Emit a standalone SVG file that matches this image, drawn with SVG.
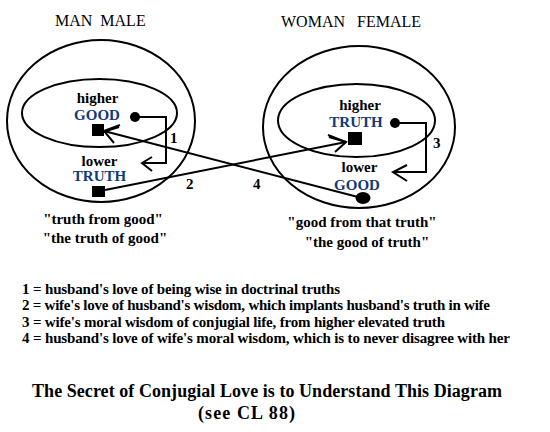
<svg xmlns="http://www.w3.org/2000/svg" width="550" height="432" viewBox="0 0 550 432">
<style>
.ring{fill:none;stroke:#000;stroke-width:2}
.ln{fill:none;stroke:#000;stroke-width:2}
.t{font-family:"Liberation Serif","Times New Roman",serif;font-weight:bold;fill:#000}
.h{font-family:"Liberation Serif","Times New Roman",serif;font-size:16px;fill:#000}
.lbl{font-size:15px}
.key{font-size:15px;fill:#123a7a}
.num{font-size:15px}
.leg{font-size:15px}
.ttl{font-size:18px}
</style>
<rect width="550" height="432" fill="#fff"/>
<g id="man">
<text class="h" x="55" y="26" xml:space="preserve">MAN  MALE</text>
<ellipse class="ring" cx="101" cy="121" rx="94" ry="81"/>
<ellipse class="ring" cx="99.5" cy="113" rx="77.5" ry="34"/>
</g>
<g id="woman">
<text class="h" x="281" y="27" xml:space="preserve">WOMAN   FEMALE</text>
<ellipse class="ring" cx="359" cy="127" rx="96" ry="81"/>
<ellipse class="ring" cx="356.5" cy="120.5" rx="78.5" ry="36.5"/>
</g>
<g id="man-higher">
<text class="t lbl" x="97.5" y="103" text-anchor="middle">higher</text>
<text class="t key" x="97" y="120" text-anchor="middle">GOOD</text>
<rect x="92" y="124" width="12" height="12" fill="#000"/>
<circle cx="135" cy="117" r="5" fill="#000"/>
</g>
<g id="man-lower">
<text class="t lbl" x="99.5" y="166" text-anchor="middle">lower</text>
<text class="t key" x="99.5" y="181" text-anchor="middle">TRUTH</text>
<rect x="92" y="186" width="13" height="11" fill="#000"/>
</g>
<g id="woman-higher">
<text class="t lbl" x="360" y="110" text-anchor="middle">higher</text>
<text class="t key" x="356" y="127" text-anchor="middle">TRUTH</text>
<rect x="348" y="132" width="14" height="13" fill="#000"/>
<circle cx="395" cy="123" r="5" fill="#000"/>
</g>
<g id="woman-lower">
<text class="t lbl" x="359.5" y="172" text-anchor="middle">lower</text>
<text class="t key" x="357" y="190" text-anchor="middle">GOOD</text>
<ellipse cx="363" cy="198" rx="7.5" ry="6" fill="#000"/>
</g>
<g id="connectors">
<polyline class="ln" points="135,117 166,117 166,163 142,163"/>
<polyline class="ln" points="152,157 142,163 152,171"/>
<polyline class="ln" points="395,123 426,123 426,172 393,172"/>
<polyline class="ln" points="407,165 393,172 407,181"/>
<line class="ln" x1="105" y1="190" x2="346" y2="142"/>
<polyline class="ln" points="328,135 346,142 335,152"/>
<polyline class="ln" points="329,137 346,142"/>
<line class="ln" x1="358" y1="197" x2="104" y2="131"/>
<polyline class="ln" points="120,125 104,131 114,143"/>
<polyline class="ln" points="119,127 106,131"/>
<text class="t num" x="170" y="143">1</text>
<text class="t num" x="186" y="189">2</text>
<text class="t num" x="433" y="148">3</text>
<text class="t num" x="253" y="189">4</text>
</g>
<g id="captions">
<text class="t lbl" x="103" y="224" text-anchor="middle">"truth from good"</text>
<text class="t lbl" x="105" y="243" text-anchor="middle">"the truth of good"</text>
<text class="t lbl" x="362" y="227" text-anchor="middle">"good from that truth"</text>
<text class="t lbl" x="367" y="247" text-anchor="middle">"the good of truth"</text>
</g>
<g id="legend">
<text class="t leg" x="22" y="294" textLength="318">1 = husband's love of being wise in doctrinal truths</text>
<text class="t leg" x="22" y="310" textLength="468">2 = wife's love of husband's wisdom, which implants husband's truth in wife</text>
<text class="t leg" x="22" y="327" textLength="423">3 = wife's moral wisdom of conjugial life, from higher elevated truth</text>
<text class="t leg" x="22" y="343" textLength="488">4 = husband's love of wife's moral wisdom, which is to never disagree with her</text>
</g>
<g id="title">
<text class="t ttl" x="32" y="397" textLength="470">The Secret of Conjugial Love is to Understand This Diagram</text>
<text class="t ttl" x="198" y="419" textLength="97">(see CL 88)</text>
</g>
</svg>
